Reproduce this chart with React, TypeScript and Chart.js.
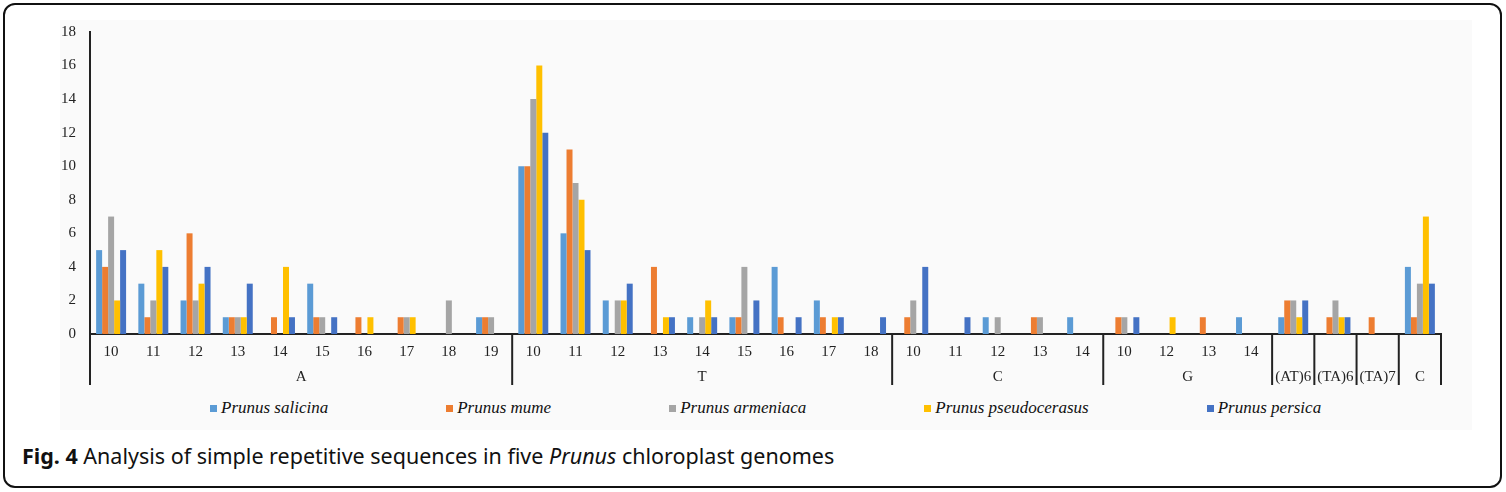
import React, { useEffect, useRef } from 'react';
import { Chart, registerables } from 'chart.js';

Chart.register(...registerables);

// group (motif) names on the second axis row and how many categories each spans
const groupNames = ['A', 'T', 'C', 'G', '(AT)6', '(TA)6', '(TA)7', 'C'];
const groupSizes = [10, 9, 5, 4, 1, 1, 1, 1];

// repeat-length labels on the first axis row
const repeatLengths = [
  '10', '11', '12', '13', '14', '15', '16', '17', '18', '19',
  '10', '11', '12', '13', '14', '15', '16', '17', '18',
  '10', '11', '12', '13', '14',
  '10', '12', '13', '14',
  '', '', '', '',
];

const seriesNames = [
  'Prunus salicina',
  'Prunus mume',
  'Prunus armeniaca',
  'Prunus pseudocerasus',
  'Prunus persica',
];
const seriesColors = ['#5B9BD5', '#ED7D31', '#A5A5A5', '#FFC000', '#4472C4'];

const salicina = [5, 3, 2, 1, 0, 3, 0, 0, 0, 1, 10, 6, 2, 0, 1, 1, 4, 2, 0, 0, 0, 1, 0, 1, 0, 0, 0, 1, 1, 0, 0, 4];
const mume = [4, 1, 6, 1, 1, 1, 1, 1, 0, 1, 10, 11, 0, 4, 0, 1, 1, 1, 0, 1, 0, 0, 1, 0, 1, 0, 1, 0, 2, 1, 1, 1];
const armeniaca = [7, 2, 2, 1, 0, 1, 0, 1, 2, 1, 14, 9, 2, 0, 1, 4, 0, 0, 0, 2, 0, 1, 1, 0, 1, 0, 0, 0, 2, 2, 0, 3];
const pseudocerasus = [2, 5, 3, 1, 4, 0, 1, 1, 0, 0, 16, 8, 2, 1, 2, 0, 0, 1, 0, 0, 0, 0, 0, 0, 0, 1, 0, 0, 1, 1, 0, 7];
const persica = [5, 4, 4, 3, 1, 1, 0, 0, 0, 0, 12, 5, 3, 1, 1, 2, 1, 1, 1, 4, 1, 0, 0, 0, 1, 0, 0, 0, 2, 1, 0, 3];

const seriesValues = [salicina, mume, armeniaca, pseudocerasus, persica];

const axisColor = '#222';
const serif = '"Liberation Serif", "Times New Roman", serif';

// draws the group separators and group names under the x axis
const groupAxisPlugin = {
  id: 'groupAxis',
  afterDraw(chart: Chart) {
    const x = chart.scales.x;
    const ctx = chart.ctx;
    const bottom = chart.chartArea.bottom;
    const step = (x.right - x.left) / repeatLengths.length;
    ctx.save();
    ctx.strokeStyle = axisColor;
    ctx.lineWidth = 2;
    ctx.fillStyle = axisColor;
    ctx.font = `15px ${serif}`;
    ctx.textAlign = 'center';
    ctx.textBaseline = 'middle';
    let start = 0;
    const edges = [x.left];
    groupNames.forEach((name, i) => {
      const end = start + groupSizes[i];
      const x0 = x.left + start * step;
      const x1 = x.left + end * step;
      edges.push(x1);
      ctx.fillText(name, (x0 + x1) / 2, bottom + 43);
      start = end;
    });
    edges.forEach((px) => {
      ctx.beginPath();
      ctx.moveTo(px, bottom);
      ctx.lineTo(px, bottom + 51);
      ctx.stroke();
    });
    ctx.restore();
  },
};

const SsrChart: React.FC = () => {
  const chartRef = useRef<HTMLCanvasElement>(null);
  const chartInstance = useRef<Chart | null>(null);

  useEffect(() => {
    if (!chartRef.current) return;
    if (chartInstance.current) {
      chartInstance.current.destroy();
    }
    const ctx = chartRef.current.getContext('2d');
    if (!ctx) return;

    chartInstance.current = new Chart(ctx, {
      type: 'bar',
      data: {
        labels: repeatLengths,
        datasets: seriesNames.map((name, i) => ({
          label: name,
          data: seriesValues[i],
          backgroundColor: seriesColors[i],
          borderWidth: 0,
          categoryPercentage: 0.71,
          barPercentage: 1,
        })),
      },
      options: {
        animation: false,
        responsive: true,
        maintainAspectRatio: false,
        layout: {
          padding: { top: 7, right: 29, left: 0, bottom: 0 },
        },
        plugins: {
          legend: { display: false },
          tooltip: { enabled: false },
        },
        scales: {
          x: {
            grid: { display: false, drawTicks: false },
            border: { display: true, color: axisColor, width: 2 },
            ticks: {
              autoSkip: false,
              maxRotation: 0,
              padding: 9,
              color: axisColor,
              font: { family: serif, size: 15 },
            },
            afterFit: (scale: any) => {
              scale.height = 63;
            },
          },
          y: {
            min: 0,
            max: 18,
            grid: { display: false, drawTicks: false },
            border: { display: true, color: axisColor, width: 2 },
            ticks: {
              stepSize: 2,
              padding: 14,
              color: axisColor,
              font: { family: serif, size: 15 },
            },
            afterFit: (scale: any) => {
              scale.width = 40;
            },
          },
        },
      },
      plugins: [groupAxisPlugin],
    });

    return () => {
      if (chartInstance.current) {
        chartInstance.current.destroy();
        chartInstance.current = null;
      }
    };
  }, []);

  return <canvas ref={chartRef} />;
};

const App: React.FC = () => {
  return (
    <div
      style={{
        position: 'fixed',
        left: 3,
        top: 3,
        width: 1499,
        height: 485,
        boxSizing: 'border-box',
        border: '2px solid #111',
        borderRadius: 12,
        background: '#fff',
        overflow: 'hidden',
      }}
    >
      <div
        style={{
          position: 'absolute',
          left: 55,
          top: 15,
          width: 1412,
          height: 410,
          background: '#fafafa',
        }}
      />
      <div style={{ position: 'absolute', left: 45, top: 4, width: 1420, height: 388 }}>
        <SsrChart />
      </div>
      <div
        style={{
          position: 'absolute',
          left: 205,
          top: 393,
          display: 'flex',
          gap: 118,
          fontFamily: serif,
          fontStyle: 'italic',
          fontSize: 17,
          color: '#111',
          whiteSpace: 'nowrap',
        }}
      >
        {seriesNames.map((name, i) => (
          <div key={name} style={{ display: 'flex', alignItems: 'center' }}>
            <span
              style={{
                display: 'inline-block',
                width: 7,
                height: 7,
                background: seriesColors[i],
                marginRight: 4,
              }}
            />
            {name}
          </div>
        ))}
      </div>
      <div
        style={{
          position: 'absolute',
          left: 17,
          top: 436,
          fontFamily: '"Noto Sans", "Open Sans", sans-serif',
          fontSize: 21.5,
          color: '#111',
          whiteSpace: 'nowrap',
        }}
      >
        <b>Fig. 4</b> Analysis of simple repetitive sequences in five <i>Prunus</i> chloroplast
        genomes
      </div>
    </div>
  );
};

export default App;
